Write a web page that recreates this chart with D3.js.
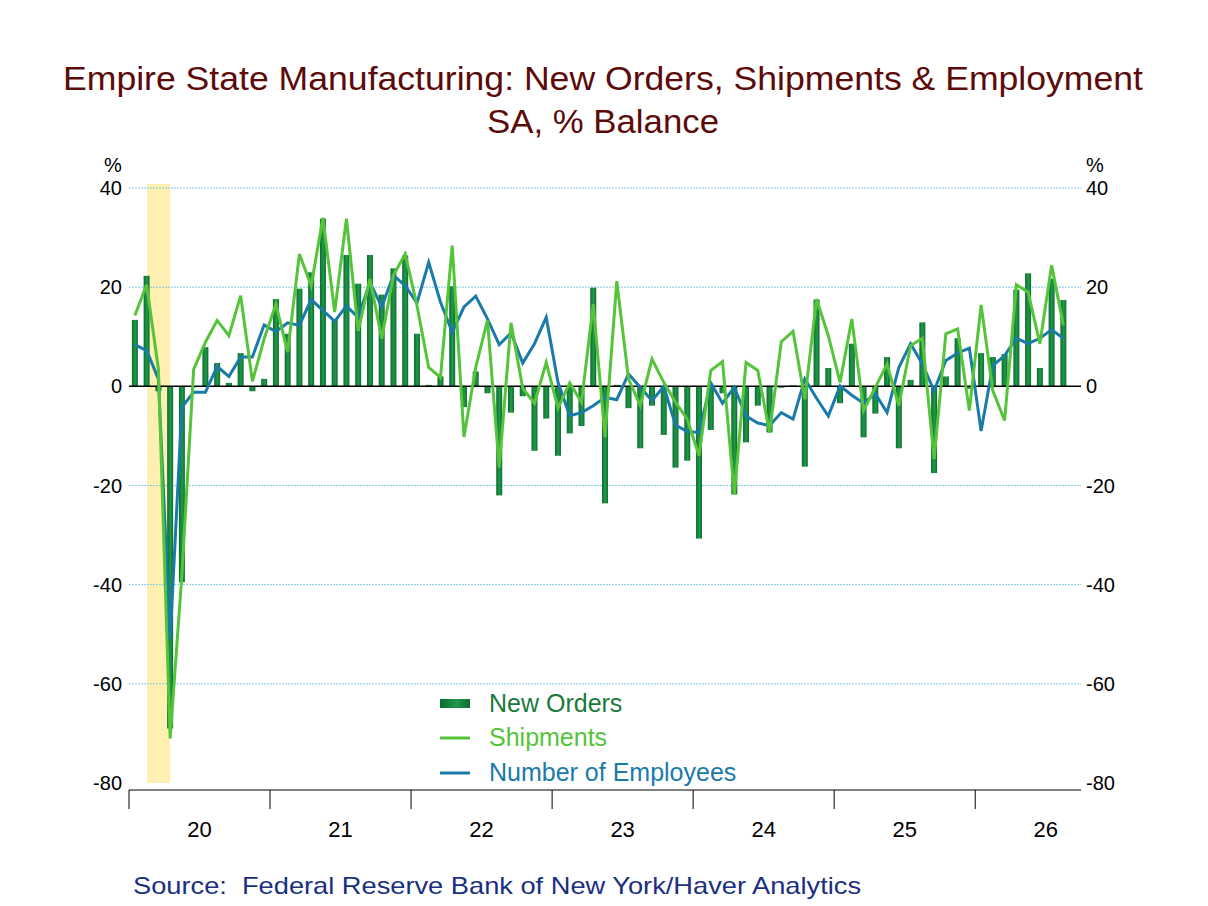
<!DOCTYPE html>
<html>
<head>
<meta charset="utf-8">
<script src="https://cdn.jsdelivr.net/npm/d3@7"></script>
<style>
body { margin: 0; background: #fff; }
text { font-family: Arial, "Liberation Sans", sans-serif; }
</style>
</head>
<body>
<div id="chart"></div>
<script>
// monthly data, Jan 2020 onward
var newOrders = [13.4, 22.3, -1, -69, -39.5, 0, 7.9, 4.7, 0.7, 6.7, -1, 1.5,
	17.6, 10.6, 19.7, 23, 33.8, 13.6, 26.5, 20.7, 26.5, 18.5, 23.8, 26.4,
	10.6, 0.3, 2, 20.2, -4.2, 3, -1.4, -22, -5.3, -2, -13, -6.5,
	-14, -9.5, -8, 19.9, -23.6, 0.3, -4.4, -12.5, -3.9, -9.8, -16.4, -15,
	-30.7, -8.8, -1.4, -21.8, -11.3, -3.9, -9.3, -0.3, 0.2, -16.2, 17.5, 3.7,
	-3.4, 8.6, -10.3, -5.5, 5.9, -12.5, 1.3, 12.9, -17.5, 2, 9.7, -0.5,
	6.7, 5.9, 6.5, 19.5, 22.8, 3.7, 21.7, 17.4];
var shipments = [14.3, 20.5, 3.5, -71, -38, 3.4, 8.9, 13.3, 10.2, 18.3, 1, 9.6,
	16.6, 6.9, 26.7, 20.3, 34, 15, 33.8, 11.2, 21.7, 9.6, 22.4, 26.7,
	16.3, 3.8, 1.8, 28.4, -10.2, 3.8, 13.3, -16.4, 12.8, -0.4, -3.4, 4.8,
	-4.4, 0.7, -3.2, 16.6, -10.3, 21.2, 1.5, -3.9, 5.5, 0.8, -3.2, -6.6,
	-14, 3.2, 5, -21.8, 4.8, 3.2, -9.3, 9, 11.1, -2.6, 17.6, 10.2,
	0.8, 13.6, -4.9, -0.2, 4.5, -3.9, 8.2, 9.7, -14.7, 10.6, 11.6, -4.9,
	16.4, -0.9, -6.9, 20.5, 19, 8.6, 24.4, 12.3];
var employees = [8.4, 7.2, 1.5, -51, -4.2, -1.2, -1.2, 4, 2, 5.9, 5.9, 12.4,
	11, 12.8, 12.3, 17.5, 15.3, 13.1, 16.2, 13.9, 21, 16, 22.4, 20.3,
	16.8, 25, 17, 10.9, 16, 18.2, 13.6, 8.4, 10.8, 4.7, 8.6, 13.9,
	0.8, -5.9, -5.3, -3.9, -2.2, -2.7, 2.5, -0.2, -2.9, 0, -7.8, -9.1,
	-9.3, 0.7, -3.4, -0.2, -6, -7.4, -7.9, -5.3, -6.6, 1.5, -2.4, -6,
	0.1, -1.8, -3.4, -1.5, -5.3, 3.8, 8.6, 4.5, -0.9, 5.2, 6.7, 7.7,
	-9, 4.2, 6.2, 9.7, 8.6, 9.7, 11.4, 9.7];

var W = 1208, H = 906;
var pLeft = 129, pRight = 1081, pTop = 188, pBottom = 783;

var svg = d3.select("#chart").append("svg")
	.attr("width", W).attr("height", H);

var defs = svg.append("defs");
var grad = defs.append("linearGradient").attr("id", "barGrad");
grad.append("stop").attr("offset", "0%").attr("stop-color", "#0d6b30");
grad.append("stop").attr("offset", "55%").attr("stop-color", "#1f9a48");
grad.append("stop").attr("offset", "100%").attr("stop-color", "#0d6b30");

var x = d3.scaleLinear().domain([0, 81]).range([pLeft, pRight]);
var y = d3.scaleLinear().domain([-80, 40]).range([pBottom, pTop]);

// title
svg.append("text").attr("x", 603).attr("y", 90).attr("text-anchor", "middle")
	.attr("font-size", 34).attr("fill", "#5c0a0a")
	.attr("textLength", 1080).attr("lengthAdjust", "spacingAndGlyphs")
	.text("Empire State Manufacturing: New Orders, Shipments & Employment");
svg.append("text").attr("x", 603).attr("y", 133).attr("text-anchor", "middle")
	.attr("font-size", 34).attr("fill", "#5c0a0a")
	.attr("textLength", 232).attr("lengthAdjust", "spacingAndGlyphs")
	.text("SA, % Balance");

// recession shading
svg.append("rect")
	.attr("x", x(1.55)).attr("y", pTop - 4)
	.attr("width", x(3.5) - x(1.55)).attr("height", pBottom - pTop + 4)
	.attr("fill", "#fdf0b0");

// gridlines
var ticks = [40, 20, 0, -20, -40, -60, -80];
svg.selectAll(".grid").data([40, 20, -20, -40, -60]).enter().append("line")
	.attr("x1", pLeft).attr("x2", pRight)
	.attr("y1", function(d) { return y(d); }).attr("y2", function(d) { return y(d); })
	.attr("stroke", "#7fcbe0").attr("stroke-dasharray", "2,1");

// y labels both sides
svg.selectAll(".yl").data(ticks).enter().append("text")
	.attr("x", pLeft - 7).attr("y", function(d) { return y(d) + 7; })
	.attr("text-anchor", "end").attr("font-size", 20).text(function(d) { return d; });
svg.selectAll(".yr").data(ticks).enter().append("text")
	.attr("x", pRight + 5).attr("y", function(d) { return y(d) + 7; })
	.attr("text-anchor", "start").attr("font-size", 20).text(function(d) { return d; });
svg.append("text").attr("x", 104).attr("y", 172).attr("font-size", 20).text("%");
svg.append("text").attr("x", 1086).attr("y", 172).attr("font-size", 20).text("%");

// bars
svg.selectAll(".bar").data(newOrders).enter().append("rect")
	.attr("x", function(d, i) { return x(i + 0.5) - 3; })
	.attr("width", 6)
	.attr("y", function(d) { return y(Math.max(0, d)); })
	.attr("height", function(d) { return Math.max(1, Math.abs(y(d) - y(0))); })
	.attr("fill", "url(#barGrad)");

// zero line
svg.append("line").attr("x1", pLeft).attr("x2", pRight)
	.attr("y1", y(0)).attr("y2", y(0)).attr("stroke", "#000").attr("stroke-width", 1.5);

var line = d3.line()
	.x(function(d, i) { return x(i + 0.5); })
	.y(function(d) { return y(d); });

svg.append("path").datum(employees).attr("d", line)
	.attr("fill", "none").attr("stroke", "#1a7aa8").attr("stroke-width", 3);
svg.append("path").datum(shipments).attr("d", line)
	.attr("fill", "none").attr("stroke", "#55c43a").attr("stroke-width", 3);

// x axis
var axisY = 790;
svg.append("line").attr("x1", pLeft).attr("x2", pRight)
	.attr("y1", axisY).attr("y2", axisY).attr("stroke", "#000");
svg.selectAll(".xt").data(d3.range(0, 81, 12)).enter().append("line")
	.attr("x1", function(d) { return x(d); }).attr("x2", function(d) { return x(d); })
	.attr("y1", axisY).attr("y2", axisY + 19).attr("stroke", "#000");
svg.selectAll(".xl").data(["20", "21", "22", "23", "24", "25", "26"]).enter().append("text")
	.attr("x", function(d, i) { return x(i * 12 + 6); })
	.attr("y", 837).attr("text-anchor", "middle").attr("font-size", 22)
	.text(function(d) { return d; });

// legend
var lg = svg.append("g").attr("transform", "translate(440,704)");
lg.append("rect").attr("x", 0).attr("y", -5).attr("width", 30).attr("height", 9).attr("fill", "url(#barGrad)");
lg.append("text").attr("x", 49).attr("y", 8).attr("font-size", 25).attr("fill", "#1a7a3a").text("New Orders");
lg.append("line").attr("x1", 0).attr("x2", 30).attr("y1", 34).attr("y2", 34).attr("stroke", "#55c43a").attr("stroke-width", 3);
lg.append("text").attr("x", 49).attr("y", 42).attr("font-size", 25).attr("fill", "#55c43a").text("Shipments");
lg.append("line").attr("x1", 0).attr("x2", 30).attr("y1", 69).attr("y2", 69).attr("stroke", "#1a7aa8").attr("stroke-width", 3);
lg.append("text").attr("x", 49).attr("y", 77).attr("font-size", 25).attr("fill", "#1a7aa8").text("Number of Employees");

// source
svg.append("text").attr("x", 133).attr("y", 894).attr("font-size", 24).attr("fill", "#1a2f80")
	.attr("textLength", 728).attr("lengthAdjust", "spacingAndGlyphs").attr("xml:space", "preserve")
	.text("Source:  Federal Reserve Bank of New York/Haver Analytics");
</script>
</body>
</html>
